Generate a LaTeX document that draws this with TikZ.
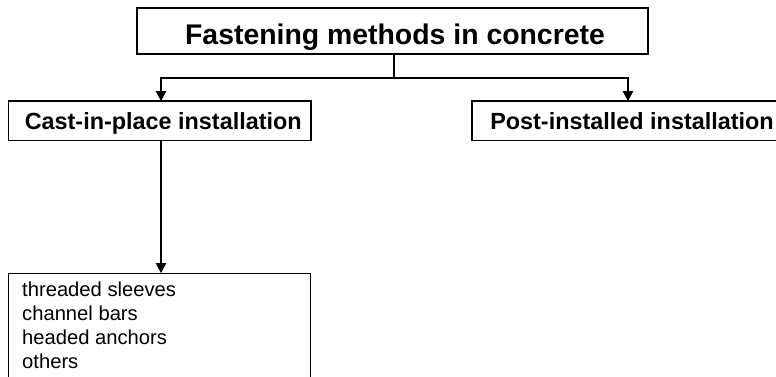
\documentclass[tikz,border=0pt]{standalone}
\usepackage{fontspec}
\setmainfont{Liberation Sans}
\usetikzlibrary{arrows.meta}
\tikzset{
  arr/.style={line width=1.2pt,-{Triangle[length=10pt,width=10.5pt]}},
  conn/.style={line width=1.2pt},
  titlebox/.style={draw,line width=2.8pt,fill=white,inner sep=0pt,
    minimum width=511pt,minimum height=46pt,
    font=\bfseries\fontsize{28.4}{34}\selectfont,text height=31.6pt,text depth=5pt},
  levelbox/.style={draw,line width=1.2pt,fill=white,inner sep=0pt,
    minimum height=39.5pt,
    font=\bfseries\fontsize{23.4}{28}\selectfont,text height=17.1pt,text depth=0pt},
  listbox/.style={draw,line width=1.2pt,fill=white,inner sep=0pt,
    minimum width=302pt,minimum height=120pt},
  listtext/.style={inner sep=0pt,font=\fontsize{20.2}{24}\selectfont}
}
\begin{document}
\begin{tikzpicture}[x=1pt,y=-1pt]
\useasboundingbox (0,0) rectangle (776,376);
\clip (0,0) rectangle (776,376);
\node[titlebox] (top) at (392.5,31) {\hspace*{5pt}Fastening methods in concrete};
\node[levelbox,minimum width=302.5pt] (cast) at (159.75,120.75) {\hspace*{7pt}Cast-in-place installation};
\node[levelbox,minimum width=320pt] (post) at (632,120.75) {Post-installed installation};
\node[listbox,anchor=north west] (list) at (8,273) {};
\node[listtext,anchor=base west] (items) at (22,296.2)
  {\parbox[t]{280pt}{\raggedright\fontsize{20.2}{24}\selectfont threaded sleeves\\channel bars\\headed anchors\\others}};
\coordinate (j) at (394,78);
\coordinate (pin) at (628,101);
\coordinate (cin) at (161,101);
\draw[conn] (top.south -| j) -- (j);
\draw[arr] (j) -| (cin);
\draw[arr] (j) -| (pin);
\draw[arr] (cast.south -| cin) -- (cin |- list.north);
\end{tikzpicture}
\end{document}
